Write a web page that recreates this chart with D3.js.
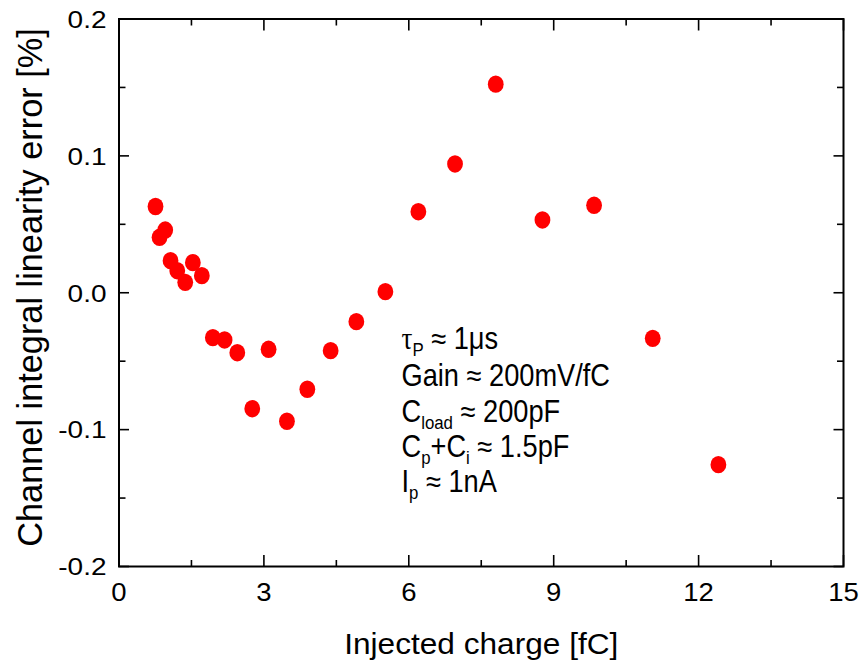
<!DOCTYPE html>
<html><head><meta charset="utf-8">
<script src="https://cdn.jsdelivr.net/npm/d3@7"></script>
<style>body{margin:0;background:#fff}svg{display:block}text{font-family:"Liberation Sans",Arial,sans-serif;fill:#000}</style>
</head><body><svg id="c" width="862" height="664"></svg>
<script>
const charge = [0.756,0.839,0.957,1.067,1.206,1.371,1.529,1.715,1.943,2.186,2.449,2.759,3.097,3.477,3.899,4.382,4.914,5.515,6.198,6.957,7.80,8.767,9.836,11.05,12.41];
const errorPct = [0.063,0.0405,0.0458,0.0234,0.0161,0.0076,0.022,0.0125,-0.0328,-0.0345,-0.0438,-0.0847,-0.0413,-0.0939,-0.0705,-0.0423,-0.0211,0.0008,0.0592,0.0941,0.1524,0.0532,0.0639,-0.0333,-0.1256];
const xTicks = [0,3,6,9,12,15];
const yTicks = [-0.2,-0.1,0.0,0.1,0.2];
const xMinor = [1.5,4.5,7.5,10.5,13.5];
const yMinor = [-0.15,-0.05,0.05,0.15];
const xTitle = "Injected charge [fC]";
const yTitle = "Channel integral linearity error [%]";

const L=119, R=843.5, T=19, B=566.5;
const svg = d3.select("#c");
const x = d3.scaleLinear().domain([0,15]).range([L,R]);
const y = d3.scaleLinear().domain([-0.2,0.2]).range([B,T]);

// ticks on all four sides (inward)
const g = svg.append("g").attr("stroke","#000").attr("stroke-width",1.6);
xTicks.forEach(v=>{g.append("line").attr("x1",x(v)).attr("x2",x(v)).attr("y1",B).attr("y2",B-11.5);
  g.append("line").attr("x1",x(v)).attr("x2",x(v)).attr("y1",T).attr("y2",T+11.5);});
xMinor.forEach(v=>{g.append("line").attr("x1",x(v)).attr("x2",x(v)).attr("y1",B).attr("y2",B-6.5);
  g.append("line").attr("x1",x(v)).attr("x2",x(v)).attr("y1",T).attr("y2",T+6.5);});
yTicks.forEach(v=>{g.append("line").attr("y1",y(v)).attr("y2",y(v)).attr("x1",L).attr("x2",L+10);
  g.append("line").attr("y1",y(v)).attr("y2",y(v)).attr("x1",R).attr("x2",R-10);});
yMinor.forEach(v=>{g.append("line").attr("y1",y(v)).attr("y2",y(v)).attr("x1",L).attr("x2",L+6.5);
  g.append("line").attr("y1",y(v)).attr("y2",y(v)).attr("x1",R).attr("x2",R-6.5);});
svg.append("rect").attr("x",L).attr("y",T).attr("width",R-L).attr("height",B-T)
  .attr("fill","none").attr("stroke","#000").attr("stroke-width",2);

// tick labels
const fy = v => d3.format(".1f")(v).replace("\u2212","-");
xTicks.forEach(v=>{svg.append("text").attr("transform",`translate(${x(v)},600.5) scale(1.1,1.02)`)
  .attr("text-anchor","middle").attr("font-size",25).text(String(v));});
yTicks.forEach(v=>{svg.append("text").attr("transform",`translate(106.5,${y(v)+8.8}) scale(1.12,0.96)`)
  .attr("text-anchor","end").attr("font-size",25).text(fy(v));});

// titles
svg.append("text").attr("transform",`translate(${(L+R)/2},653.5) scale(1.02,0.98)`)
  .attr("text-anchor","middle").attr("font-size",31).text(xTitle);
svg.append("text").attr("transform",`translate(41.5,287.5) rotate(-90) scale(1,1.04)`)
  .attr("text-anchor","middle").attr("font-size",34.3).text(yTitle);

// points
svg.append("g").selectAll("ellipse").data(charge).join("ellipse")
  .attr("cx",(d)=>x(d)).attr("cy",(d,i)=>y(errorPct[i])).attr("rx",7.9).attr("ry",8.7).attr("fill","#ff0000");

// annotation
const ann = [
  [["τ","n","serif"],["P","s"],[" ≈ 1μs","n"]],
  [["Gain ≈ 200mV/fC","n"]],
  [["C","n"],["load","s"],[" ≈ 200pF","n"]],
  [["C","n"],["p","s"],["+C","n"],["i","s"],[" ≈ 1.5pF","n"]],
  [["I","n"],["p","s"],[" ≈ 1nA","n"]]
];
const baselines=[349,386,422,457,492];
ann.forEach((line,li)=>{
  const t = svg.append("text").attr("transform",`translate(401.5,${baselines[li]}) scale(0.99,1.12)`).attr("font-size",27.5);
  let sub=false;
  line.forEach(([s,k,f])=>{
    const ts=t.append("tspan").text(s);
    if(f) ts.attr("font-family","Liberation Serif");
    if(k==="s"){ts.attr("font-size",17).attr("dy",sub?0:6); sub=true;}
    else { if(sub){ts.attr("dy",-6);} sub=false; }
  });
});
</script></body></html>
